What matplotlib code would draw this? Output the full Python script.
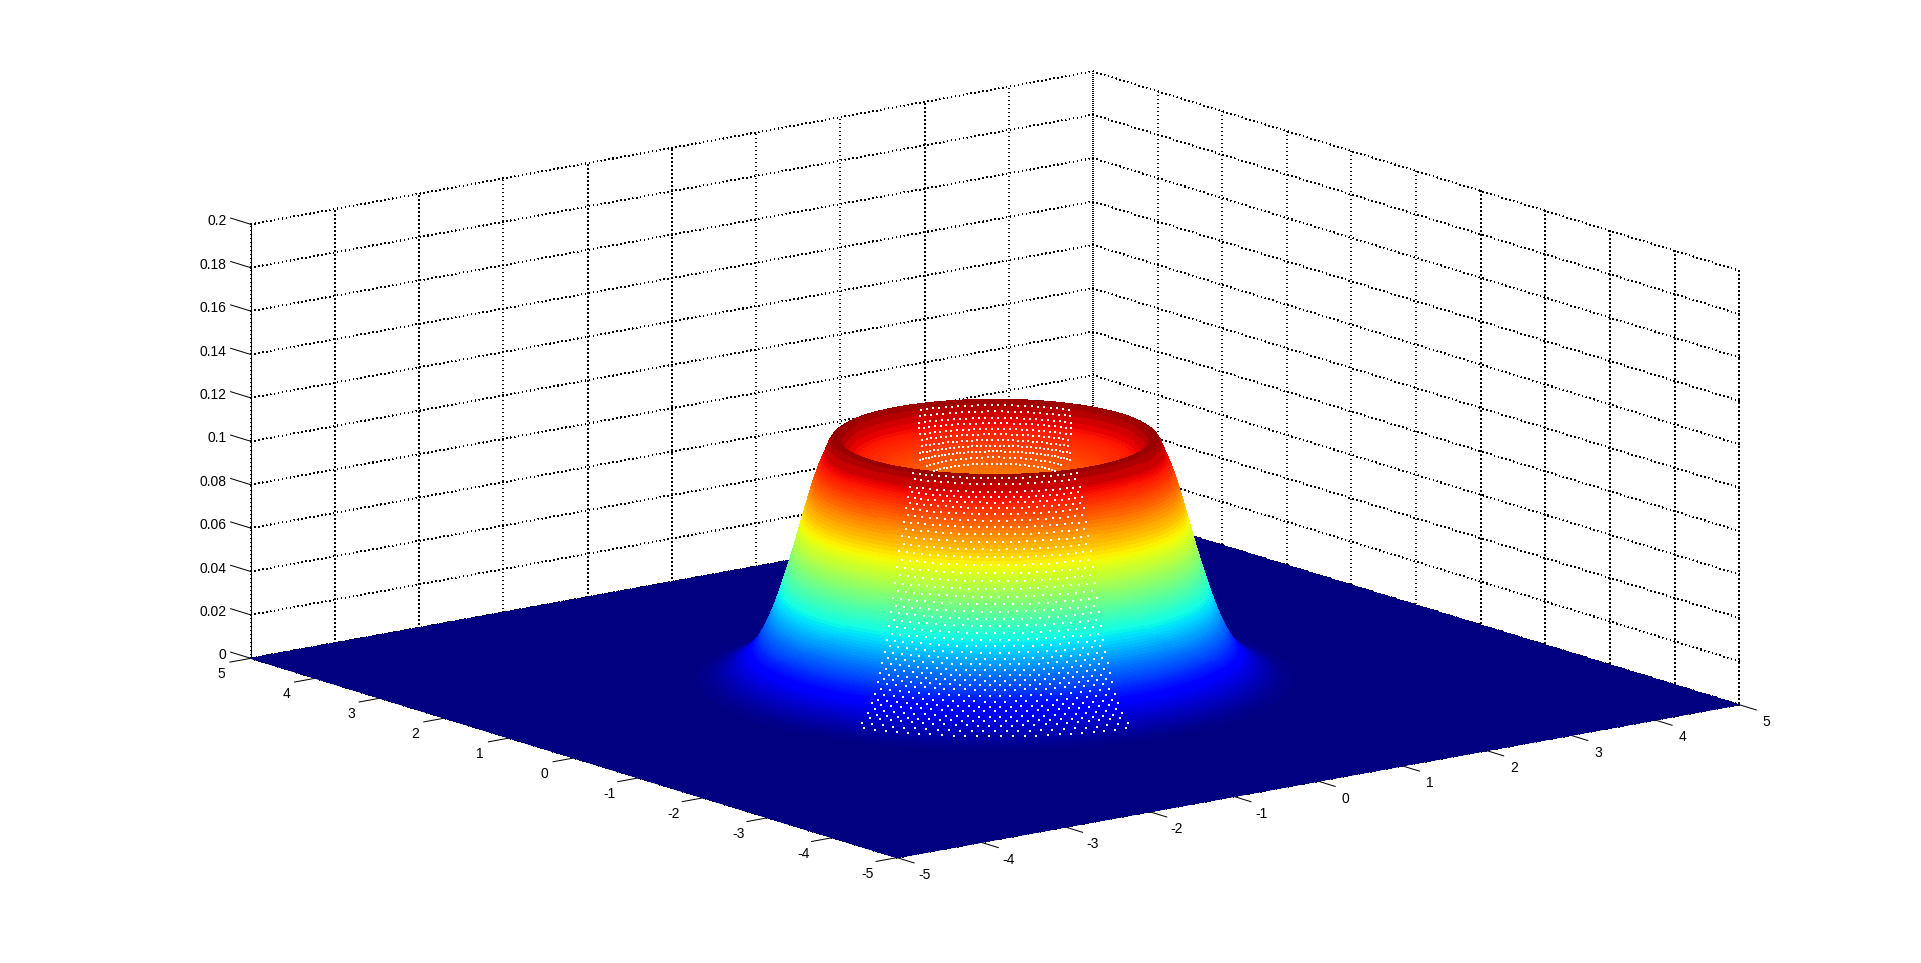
import numpy as np
import matplotlib
matplotlib.use("Agg")
import matplotlib.pyplot as plt

plt.rcParams['font.family'] = ['Liberation Sans', 'DejaVu Sans']
plt.rcParams['axes.unicode_minus'] = False

# ---- data ----
x_ticks = [-5, -4, -3, -2, -1, 0, 1, 2, 3, 4, 5]
y_ticks = [-5, -4, -3, -2, -1, 0, 1, 2, 3, 4, 5]
z_ticks = [0, 0.02, 0.04, 0.06, 0.08, 0.1, 0.12, 0.14, 0.16, 0.18, 0.2]
z_labels = ['0', '0.02', '0.04', '0.06', '0.08', '0.1', '0.12', '0.14', '0.16', '0.18', '0.2']
floor_x = [-5, 5]
floor_y = [-5, 5]
radius = [0.00, 0.20, 0.40, 0.50, 0.55, 0.60, 0.65, 0.70, 0.75, 0.80, 0.85, 0.90, 0.95, 1.00,
          1.05, 1.10, 1.15, 1.20, 1.25, 1.28, 1.31, 1.34, 1.38, 1.42, 1.45, 1.48, 1.51, 1.54, 1.57,
          1.60, 1.61, 1.62, 1.63, 1.64, 1.65, 1.66, 1.67, 1.68, 1.69, 1.70, 1.71, 1.72, 1.73,
          1.74, 1.75, 1.76, 1.77, 1.78, 1.79, 1.80, 1.81, 1.82, 1.83, 1.84, 1.85, 1.86, 1.87,
          1.88, 1.89, 1.90, 1.91, 1.92, 1.93, 1.94, 1.95, 1.96, 1.97, 1.98, 1.99, 2.00, 2.01,
          2.02, 2.03, 2.04, 2.05, 2.06, 2.07, 2.08, 2.09, 2.10, 2.11, 2.12, 2.13, 2.14, 2.15,
          2.16, 2.17, 2.18, 2.19, 2.20, 2.21, 2.22, 2.23, 2.24, 2.25, 2.26, 2.27, 2.28, 2.29,
          2.30, 2.32, 2.34, 2.36, 2.38, 2.40, 2.42, 2.44, 2.46, 2.48, 2.50, 2.52, 2.54, 2.56,
          2.58, 2.60, 2.65, 2.70, 2.80, 2.95]
height = [0.0840, 0.0845, 0.0870, 0.0885, 0.0895, 0.0905, 0.0914, 0.0923, 0.0932, 0.0940, 0.0948,
          0.0956, 0.0963, 0.0970, 0.0977, 0.0985, 0.0992, 0.1000, 0.1008, 0.1015, 0.1024, 0.1035,
          0.1055, 0.1080, 0.1105, 0.1125, 0.1126, 0.1115, 0.1092,
          0.1058, 0.1047, 0.1036, 0.1025, 0.1014, 0.1003, 0.0991, 0.0979, 0.0966, 0.0952, 0.0938,
          0.0924, 0.0909, 0.0894, 0.0879, 0.0863, 0.0847, 0.0831, 0.0814, 0.0797, 0.0780, 0.0763,
          0.0746, 0.0729, 0.0712, 0.0695, 0.0678, 0.0661, 0.0644, 0.0627, 0.0610, 0.0594, 0.0578,
          0.0562, 0.0546, 0.0530, 0.0515, 0.0500, 0.0485, 0.0470, 0.0455, 0.0440, 0.0426, 0.0412,
          0.0398, 0.0384, 0.0371, 0.0358, 0.0345, 0.0333, 0.0321, 0.0309, 0.0297, 0.0286, 0.0275,
          0.0264, 0.0254, 0.0244, 0.0234, 0.0225, 0.0216, 0.0207, 0.0199, 0.0191, 0.0183, 0.0176,
          0.0169, 0.0162, 0.0155, 0.0149, 0.0143, 0.0132, 0.0121, 0.0111, 0.0102, 0.0094, 0.0086,
          0.0079, 0.0072, 0.0066, 0.0060, 0.0054, 0.0049, 0.0044, 0.0039, 0.0035, 0.0026, 0.0018,
          0.0008, 0.0]
clim_top = 0.115

radius = np.array(radius)
height = np.array(height)
theta = np.deg2rad(np.linspace(0, 360, 289))
X = np.outer(radius, np.cos(theta))
Y = np.outer(radius, np.sin(theta))
Z = np.outer(height, np.ones_like(theta))

W, H = 1921, 963
fig = plt.figure(figsize=(W / 100, H / 100), dpi=100, facecolor='white')

zoom = 1.7
side = 1520.6 / zoom
cx, cy = 995.0, 963 - 464.5
ax = fig.add_axes([(cx - 0.5135 * side) / W, (cy - 0.5135 * side) / H, side / W, side / H],
                  projection='3d', proj_type='ortho', computed_zorder=False)
ax.patch.set_alpha(0)
azim, elev = -127.5, 13.69
ax.view_init(elev=elev, azim=azim)
ax.set_box_aspect((1, 1, 0.4208), zoom=zoom)
ax.set_xlim(-5, 5, view_margin=0)
ax.set_ylim(-5, 5, view_margin=0)
ax.set_zlim(0, 0.2, view_margin=0)

ax.set_xticks(x_ticks)
ax.set_yticks(y_ticks)
ax.set_zticks(z_ticks)
ax.set_xticklabels([str(v) for v in x_ticks], fontsize=10)
ax.set_yticklabels([str(v) for v in y_ticks], fontsize=10)
ax.set_zticklabels(z_labels, fontsize=10)

ax.xaxis.set_ticks_position('lower')
ax.yaxis.set_ticks_position('lower')
ax.zaxis.set_ticks_position('upper')
ax.zaxis._get_tickdir = lambda pos: 1   # z ticks run along the y direction

for axis, inner, outer in ((ax.xaxis, 0.33, 0.0), (ax.yaxis, 0.31, 0.0), (ax.zaxis, 0.0, 0.39)):
    axis.set_pane_color((1, 1, 1, 0))
    axis.pane.set_edgecolor((1, 1, 1, 0))
    axis.line.set_color('black')
    axis.line.set_linewidth(0.75)
    info = axis._axinfo
    info['grid'].update(color='black', linewidth=0.5, linestyle=(0, (1.3, 5.3)))
    info['tick'].update(inward_factor=inner, outward_factor=outer,
                        linewidth={True: 0.72, False: 0.72})
    axis.gridlines.set_antialiased(False)
    axis.gridlines.set_capstyle('butt')
ax.grid(True)
ax.tick_params(axis='both', pad=2)
ax.tick_params(axis='z', pad=2)
for lab in ax.get_zticklabels():
    lab.set_ha('right')

# small screen-space shift of the tick labels, in pixels
units_per_px = 0.185 / side
def nudge(axis, dx, dy):
    for tick in axis.get_major_ticks():
        base = tick.label1.set_position
        tick.label1.set_position = (lambda b: lambda xy: b((xy[0] + dx * units_per_px,
                                                            xy[1] + dy * units_per_px)))(base)
nudge(ax.xaxis, 8, 8.5)
nudge(ax.yaxis, -4, 8.5)
nudge(ax.zaxis, 20, 8.5)

cmap = plt.get_cmap('jet')
FX, FY = np.meshgrid(floor_x, floor_y)
floor = ax.plot_surface(FX, FY, np.zeros_like(FX, dtype=float), color=cmap(0.0), shade=False,
                        linewidth=0, antialiased=False, zorder=1)
ring = ax.plot_surface(X, Y, Z, rstride=1, cstride=1, cmap=cmap, vmin=0, vmax=clim_top, shade=False,
                       linewidth=0, antialiased=False, zorder=2)
floor.set_clip_on(False)
ring.set_clip_on(False)

# white pin-holes of the mesh: nodes on the part of the surface facing the viewer
ang = np.deg2rad(np.rad2deg(theta[:-1]) - azim)
front_off = np.arctan2(np.sin(ang), np.cos(ang))               # 0 = towards the viewer
back_off = np.arctan2(np.sin(ang + np.pi), np.cos(ang + np.pi))  # 0 = away from the viewer
slant = 2170 * height - 25.1 * radius
back_slant = 2170 * height + 25.1 * radius
dx, dy, dz = [], [], []
last_f = last_b = None
row = 0
for i, r in enumerate(radius):
    if 1.53 <= r <= 2.62:
        if last_f is not None and abs(slant[i] - last_f) < 4.2:
            continue
        last_f = slant[i]
        mask = np.abs(front_off) < np.deg2rad(31)
    elif 0.68 <= r <= 1.46:
        if last_b is not None and abs(back_slant[i] - last_b) < 3.6:
            continue
        last_b = back_slant[i]
        mask = (np.abs(back_off) < np.deg2rad(55)) & (np.abs(r * np.sin(back_off)) < 0.72)
    else:
        continue
    row += 1
    stride = max(2, int(round(5.0 / (r * 106.2 * np.deg2rad(1.25)))))
    idx = np.where(mask)[0]
    idx = idx[(idx + row * (stride // 2)) % stride == 0]
    dx.extend(X[i, idx]); dy.extend(Y[i, idx]); dz.extend(Z[i, idx])
dots = ax.scatter(dx, dy, dz, s=0.7, c='white', marker='s', linewidths=0, depthshade=False,
                  antialiased=False, zorder=3)
dots.set_clip_on(False)

fig.savefig('out.png', dpi=100, facecolor='white')
